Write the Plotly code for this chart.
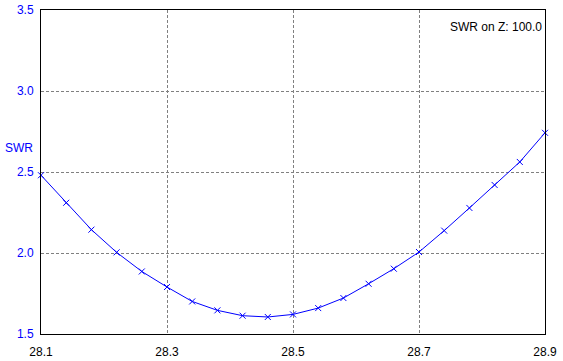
import plotly.graph_objects as go

freq = [28.10, 28.14, 28.18, 28.22, 28.26, 28.30, 28.34, 28.38, 28.42, 28.46, 28.50,
        28.54, 28.58, 28.62, 28.66, 28.70, 28.74, 28.78, 28.82, 28.86, 28.90]
swr = [2.48, 2.31, 2.144, 2.004, 1.886, 1.79, 1.701, 1.646, 1.613, 1.605, 1.621,
       1.66, 1.722, 1.81, 1.903, 2.006, 2.138, 2.278, 2.42, 2.562, 2.742]
x_ticks = [28.1, 28.3, 28.5, 28.7, 28.9]
y_ticks = [1.5, 2.0, 2.5, 3.0, 3.5]

FONT = "Liberation Sans, Arial, sans-serif"

fig = go.Figure()
fig.add_trace(go.Scatter(
    x=freq, y=swr, mode="lines+markers",
    line=dict(color="#0000ff", width=1),
    marker=dict(symbol="x-thin", size=6, line=dict(color="#0000ff", width=1)),
    cliponaxis=False, showlegend=False,
))

fig.update_layout(
    width=563, height=361,
    margin=dict(l=41, r=18, t=10, b=27),
    paper_bgcolor="white", plot_bgcolor="white",
    font=dict(family=FONT, size=12, color="black"),
    xaxis=dict(range=[28.1, 28.9], tickvals=x_ticks,
               ticktext=[f"{v:.1f}" for v in x_ticks],
               showgrid=True, gridcolor="#808080", griddash="3px,2px", gridwidth=1,
               showline=True, linecolor="black", linewidth=1, mirror=True,
               ticks="", zeroline=False, tickfont=dict(color="black", size=12),
               ticklabelstandoff=7, automargin=False),
    yaxis=dict(range=[1.5, 3.5], tickvals=y_ticks,
               ticktext=[f"{v:.1f}" for v in y_ticks],
               showgrid=True, gridcolor="#808080", griddash="3px,2px", gridwidth=1,
               showline=True, linecolor="black", linewidth=1, mirror=True,
               ticks="", zeroline=False, tickfont=dict(color="#0000ff", size=12),
               ticklabelstandoff=4, automargin=False),
    annotations=[
        dict(text="SWR", xref="paper", yref="paper", x=-0.0754, y=0.574,
             xanchor="left", yanchor="middle", showarrow=False,
             font=dict(color="#0000ff", size=12, family=FONT)),
        dict(text="SWR on Z: 100.0", xref="paper", yref="paper", x=0.999, y=0.9475,
             xanchor="right", yanchor="middle", showarrow=False,
             font=dict(color="black", size=12, family=FONT)),
    ],
)

fig.write_html("out.html")
